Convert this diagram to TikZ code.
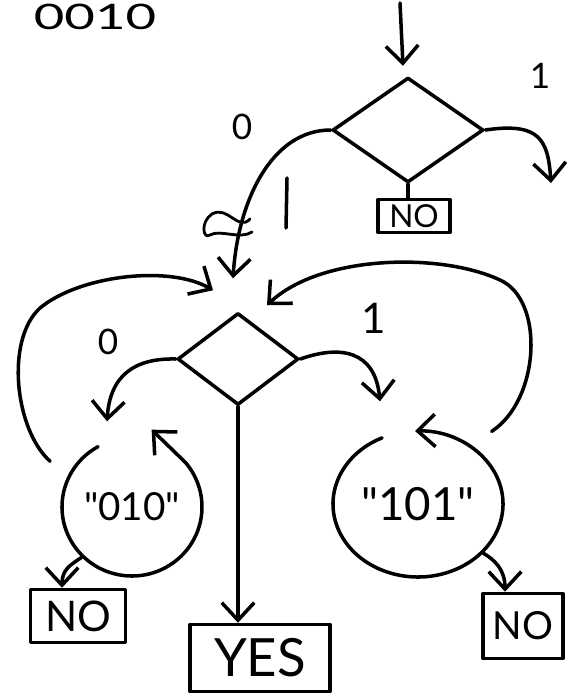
\documentclass[tikz,border=0pt]{standalone}
\usepackage{fontspec}
\setmainfont{Lato}[Ligatures=TeXOff]
\usetikzlibrary{arrows.meta,positioning,shapes.geometric,calc}

\begin{document}
\begin{tikzpicture}[
  x=0.02cm, y=0.02cm,
  line width=2pt, line cap=round, line join=round,
  flow/.style={-{Straight Barb[length=3.5mm,width=6.5mm]}},
  test/.style={draw, diamond, inner sep=0pt},
  outcome/.style={draw, rectangle, inner sep=0pt},
  state/.style={ellipse, inner sep=0pt},
  lbl/.style={inner sep=0pt, font=\fontsize{20}{22}\selectfont}]
\useasboundingbox (0,0) rectangle (572,-696);

\node[anchor=north, inner sep=0pt, xscale=1.5, font=\fontsize{20}{22}\selectfont] (title) at (95,-2) {0010};

\node[test, minimum width=3.02cm, minimum height=2.1cm] (dia1) at (408,-130) {};
\node[outcome, minimum width=1.44cm, minimum height=0.66cm, font=\fontsize{18}{20}\selectfont] (no1) at (414,-216) {NO};
\node[test, minimum width=2.42cm, minimum height=1.84cm] (dia2) at (238,-359) {};

\node[state, minimum width=2.8cm, minimum height=2.76cm, font=\fontsize{22}{24}\selectfont] (s010) at (132,-507) {"010"};
\node[state, minimum width=3.4cm, minimum height=2.92cm, font=\fontsize{26}{28}\selectfont] (s101) at (418,-504) {"101"};

\node[outcome, minimum width=1.9cm, minimum height=1.06cm, font=\fontsize{24}{26}\selectfont] (no2) at (78,-616) {NO};
\node[outcome, minimum width=2.8cm, minimum height=1.34cm, font=\fontsize{30}{32}\selectfont] (yes) at (260,-658) {YES};
\node[outcome, minimum width=1.6cm, minimum height=1.3cm, font=\fontsize{22}{24}\selectfont] (no3) at (523,-626) {NO};

\node[lbl] (l1a) at (540,-76) {1};
\node[lbl] (l0a) at (242,-127) {0};
\node[lbl] (l0b) at (108,-342) {0};
\node[lbl, font=\fontsize{24}{26}\selectfont] (l1b) at (374,-318) {1};

\coordinate (start) at (400,-3);
\coordinate (out1) at (551,-183);

% first test
\draw[flow] (start) -- ([shift={(-0.1cm,0.2cm)}]dia1.north);
\draw[flow] (dia1.east) .. controls (540,-122) and (548,-140) .. (out1);
\draw (dia1.south) -- (dia1.south |- no1.north);
\draw[flow] (dia1.west) .. controls (272,-130) and (238,-200) .. ([shift={(-0.1cm,0.66cm)}]dia2.north);
\draw (287,-178) -- (286,-228);
\draw[line width=1.6pt] (250,-219) .. controls (238,-232) and (228,-205) .. (212,-214)
  .. controls (200,-222) and (203,-240) .. (210,-235) .. controls (220,-229) and (240,-240) .. (252,-232);

% second test
\draw[flow] (dia2.west) .. controls (135,-358) and (110,-375) .. ([shift={(-0.5cm,0.3cm)}]s010.north);
\draw[flow] (dia2.east) .. controls (340,-345) and (375,-350) .. ([shift={(-0.76cm,0.56cm)}]s101.north);
\draw[flow] (dia2.south) -- (dia2.south |- yes.north);

% states
\draw[flow] (s010.center) ++(119:70 and 69) arc[start angle=119, end angle=400, x radius=70, y radius=69] -- ++(-34,33);
\draw[flow] (s101.center) ++(115:85 and 73) arc[start angle=115, end angle=452, x radius=85, y radius=73];

\draw[flow] ([shift={(-0.4cm,0.2cm)}]s010.150) .. controls (15,-430) and (5,-340) .. (40,-308)
  .. controls (80,-275) and (170,-265) .. ([shift={(-0.5cm,0.42cm)}]dia2.north);
\draw[flow] ([shift={(0.34cm,0.32cm)}]s101.45) .. controls (540,-400) and (545,-300) .. (500,-280)
  .. controls (440,-252) and (320,-255) .. ([shift={(0.58cm,0.12cm)}]dia2.north);

\draw[flow] (s010.225) .. controls (70,-565) and (62,-570) .. ([xshift=-0.32cm]no2.north);
\draw[flow] (s101.-37) .. controls (495,-560) and (505,-570) .. ([xshift=-0.36cm]no3.north);
\end{tikzpicture}
\end{document}
